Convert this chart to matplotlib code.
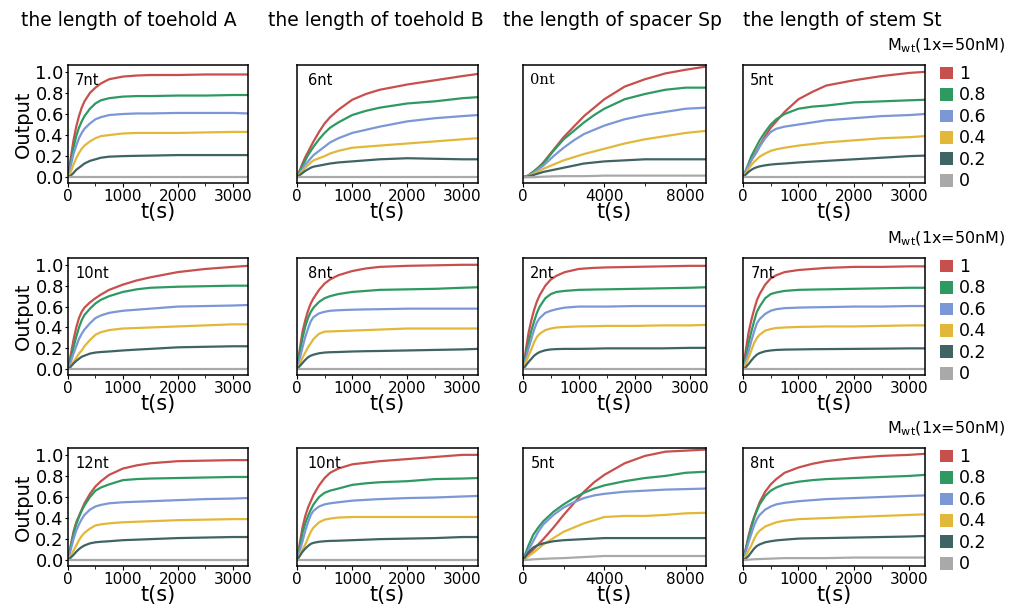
import matplotlib.pyplot as plt
from matplotlib.patches import Patch
from matplotlib.ticker import MultipleLocator

W, H = 1011, 614

T_SHORT = [0, 50, 100, 150, 200, 250, 300, 400, 500, 600, 750, 1000, 1250, 1500, 2000, 2500, 3000, 3280]
T_LONG = [0, 250, 500, 750, 1000, 1500, 2000, 2500, 3000, 3500, 4000, 5000, 6000, 7000, 8000, 9000]

LEVELS = ['1', '0.8', '0.6', '0.4', '0.2', '0']
COLORS = ['#c8504c', '#2e9a62', '#7b97d6', '#e2b83a', '#3e6463', '#a9a9a9']
COL_TITLES = ['the length of toehold A', 'the length of toehold B',
              'the length of spacer Sp', 'the length of stem St']

# Output for Mwt = 1, 0.8, 0.6, 0.4, 0.2, 0
toeholdA_7nt = [
    [0, 0.18, 0.35, 0.48, 0.58, 0.66, 0.72, 0.80, 0.85, 0.89, 0.93, 0.955, 0.965, 0.97, 0.97, 0.975, 0.975, 0.975],
    [0, 0.14, 0.28, 0.39, 0.47, 0.53, 0.58, 0.65, 0.70, 0.73, 0.75, 0.765, 0.77, 0.77, 0.775, 0.775, 0.78, 0.78],
    [0, 0.11, 0.22, 0.30, 0.37, 0.42, 0.46, 0.51, 0.55, 0.57, 0.59, 0.60, 0.605, 0.605, 0.61, 0.61, 0.61, 0.605],
    [0, 0.05, 0.12, 0.18, 0.23, 0.27, 0.30, 0.34, 0.37, 0.39, 0.40, 0.415, 0.42, 0.42, 0.42, 0.425, 0.43, 0.43],
    [0, 0.015, 0.04, 0.07, 0.09, 0.11, 0.13, 0.155, 0.17, 0.185, 0.195, 0.20, 0.203, 0.205, 0.21, 0.21, 0.21, 0.21],
    [0, 0, 0, 0, 0, 0, 0, 0, 0, 0, 0, 0, 0, 0, 0, 0, 0, 0],
]
toeholdB_6nt = [
    [0, 0.065, 0.13, 0.19, 0.24, 0.29, 0.34, 0.43, 0.51, 0.57, 0.64, 0.735, 0.79, 0.83, 0.88, 0.92, 0.96, 0.98],
    [0, 0.055, 0.11, 0.16, 0.21, 0.25, 0.29, 0.36, 0.42, 0.47, 0.52, 0.59, 0.63, 0.66, 0.70, 0.72, 0.75, 0.76],
    [0, 0.04, 0.08, 0.12, 0.15, 0.18, 0.21, 0.25, 0.29, 0.33, 0.37, 0.42, 0.45, 0.48, 0.53, 0.56, 0.58, 0.59],
    [0, 0.03, 0.06, 0.09, 0.115, 0.14, 0.16, 0.18, 0.20, 0.225, 0.25, 0.28, 0.29, 0.30, 0.32, 0.34, 0.36, 0.37],
    [0, 0.02, 0.04, 0.06, 0.075, 0.09, 0.10, 0.11, 0.12, 0.13, 0.14, 0.15, 0.16, 0.17, 0.18, 0.175, 0.17, 0.17],
    [0, 0, 0, 0, 0, 0, 0, 0, 0, 0, 0, 0, 0, 0, 0, 0, 0, 0],
]
spacer_0nt = [
    [0, 0.015, 0.05, 0.09, 0.14, 0.26, 0.38, 0.48, 0.58, 0.66, 0.74, 0.86, 0.93, 0.985, 1.02, 1.05],
    [0, 0.015, 0.05, 0.09, 0.13, 0.25, 0.36, 0.44, 0.52, 0.59, 0.65, 0.74, 0.79, 0.83, 0.85, 0.85],
    [0, 0.012, 0.04, 0.075, 0.11, 0.20, 0.28, 0.35, 0.41, 0.45, 0.49, 0.55, 0.59, 0.62, 0.65, 0.66],
    [0, 0.01, 0.03, 0.055, 0.08, 0.12, 0.16, 0.19, 0.22, 0.245, 0.27, 0.32, 0.36, 0.39, 0.42, 0.44],
    [0, 0.007, 0.02, 0.035, 0.05, 0.07, 0.09, 0.11, 0.13, 0.14, 0.15, 0.16, 0.17, 0.17, 0.17, 0.17],
    [0, 0, 0, 0.003, 0.005, 0.008, 0.01, 0.01, 0.01, 0.012, 0.015, 0.015, 0.015, 0.015, 0.015, 0.015],
]
stem_5nt = [
    [0, 0.055, 0.11, 0.16, 0.21, 0.25, 0.30, 0.39, 0.47, 0.53, 0.62, 0.74, 0.81, 0.87, 0.92, 0.96, 0.99, 1.0],
    [0, 0.065, 0.13, 0.20, 0.25, 0.30, 0.35, 0.43, 0.50, 0.55, 0.60, 0.65, 0.67, 0.68, 0.71, 0.72, 0.73, 0.735],
    [0, 0.055, 0.11, 0.16, 0.20, 0.24, 0.29, 0.37, 0.43, 0.46, 0.48, 0.50, 0.52, 0.54, 0.56, 0.58, 0.59, 0.60],
    [0, 0.04, 0.08, 0.115, 0.145, 0.17, 0.195, 0.225, 0.25, 0.265, 0.28, 0.30, 0.315, 0.33, 0.35, 0.37, 0.38, 0.39],
    [0, 0.025, 0.05, 0.07, 0.085, 0.095, 0.103, 0.113, 0.12, 0.125, 0.13, 0.14, 0.148, 0.155, 0.17, 0.185, 0.20, 0.205],
    [0, 0, 0, 0, 0, 0, 0, 0, 0, 0, 0, 0, 0, 0, 0, 0, 0, 0],
]
toeholdA_10nt = [
    [0, 0.14, 0.28, 0.40, 0.49, 0.55, 0.59, 0.64, 0.68, 0.715, 0.76, 0.81, 0.85, 0.88, 0.93, 0.96, 0.98, 0.99],
    [0, 0.10, 0.21, 0.31, 0.40, 0.47, 0.52, 0.58, 0.63, 0.665, 0.70, 0.74, 0.765, 0.78, 0.79, 0.795, 0.80, 0.80],
    [0, 0.07, 0.15, 0.22, 0.29, 0.34, 0.38, 0.44, 0.49, 0.515, 0.54, 0.56, 0.57, 0.58, 0.60, 0.605, 0.61, 0.615],
    [0, 0.03, 0.07, 0.11, 0.15, 0.18, 0.22, 0.28, 0.33, 0.355, 0.375, 0.39, 0.395, 0.40, 0.41, 0.42, 0.43, 0.43],
    [0, 0.025, 0.055, 0.08, 0.10, 0.12, 0.13, 0.15, 0.16, 0.165, 0.17, 0.18, 0.188, 0.195, 0.21, 0.215, 0.22, 0.22],
    [0, 0, 0, 0, 0, 0, 0, 0, 0, 0, 0, 0, 0, 0, 0, 0, 0, 0],
]
toeholdB_8nt = [
    [0, 0.19, 0.36, 0.47, 0.56, 0.63, 0.68, 0.76, 0.82, 0.86, 0.90, 0.94, 0.965, 0.98, 0.99, 0.995, 1.0, 1.0],
    [0, 0.16, 0.30, 0.41, 0.49, 0.55, 0.59, 0.645, 0.68, 0.70, 0.72, 0.74, 0.75, 0.76, 0.765, 0.77, 0.78, 0.785],
    [0, 0.10, 0.21, 0.31, 0.39, 0.46, 0.50, 0.535, 0.55, 0.56, 0.565, 0.57, 0.573, 0.575, 0.58, 0.58, 0.58, 0.58],
    [0, 0.05, 0.11, 0.16, 0.21, 0.25, 0.29, 0.34, 0.36, 0.362, 0.365, 0.37, 0.375, 0.38, 0.39, 0.39, 0.39, 0.39],
    [0, 0.03, 0.06, 0.09, 0.115, 0.13, 0.14, 0.153, 0.16, 0.163, 0.165, 0.17, 0.173, 0.175, 0.18, 0.185, 0.19, 0.195],
    [0, 0, 0, 0, 0, 0, 0, 0, 0, 0, 0, 0, 0, 0, 0, 0, 0, 0],
]
spacer_2nt = [
    [0, 0.18, 0.35, 0.47, 0.57, 0.65, 0.71, 0.80, 0.86, 0.895, 0.93, 0.96, 0.97, 0.975, 0.98, 0.985, 0.99, 0.99],
    [0, 0.13, 0.26, 0.37, 0.46, 0.54, 0.60, 0.68, 0.72, 0.74, 0.75, 0.76, 0.763, 0.765, 0.77, 0.775, 0.78, 0.785],
    [0, 0.10, 0.20, 0.29, 0.38, 0.45, 0.49, 0.54, 0.56, 0.575, 0.59, 0.60, 0.60, 0.60, 0.605, 0.605, 0.605, 0.605],
    [0, 0.065, 0.13, 0.19, 0.26, 0.31, 0.34, 0.375, 0.39, 0.40, 0.405, 0.41, 0.412, 0.415, 0.415, 0.42, 0.42, 0.425],
    [0, 0.035, 0.07, 0.10, 0.13, 0.15, 0.165, 0.182, 0.19, 0.193, 0.195, 0.195, 0.197, 0.20, 0.20, 0.20, 0.205, 0.205],
    [0, 0, 0, 0, 0, 0, 0, 0, 0, 0, 0, 0, 0, 0, 0, 0, 0, 0],
]
stem_7nt = [
    [0, 0.18, 0.35, 0.47, 0.57, 0.66, 0.72, 0.81, 0.87, 0.90, 0.93, 0.95, 0.96, 0.97, 0.98, 0.98, 0.985, 0.985],
    [0, 0.12, 0.25, 0.36, 0.46, 0.55, 0.60, 0.68, 0.72, 0.735, 0.75, 0.76, 0.763, 0.765, 0.77, 0.775, 0.78, 0.78],
    [0, 0.08, 0.17, 0.27, 0.36, 0.44, 0.48, 0.53, 0.56, 0.575, 0.585, 0.59, 0.593, 0.595, 0.60, 0.60, 0.605, 0.605],
    [0, 0.05, 0.11, 0.18, 0.25, 0.30, 0.33, 0.37, 0.385, 0.395, 0.40, 0.405, 0.407, 0.41, 0.41, 0.415, 0.42, 0.42],
    [0, 0.02, 0.05, 0.085, 0.115, 0.14, 0.155, 0.172, 0.18, 0.185, 0.188, 0.19, 0.192, 0.193, 0.195, 0.197, 0.20, 0.20],
    [0, 0, 0, 0, 0, 0, 0, 0, 0, 0, 0, 0, 0, 0, 0, 0, 0, 0],
]
toeholdA_12nt = [
    [0, 0.14, 0.27, 0.36, 0.42, 0.48, 0.54, 0.63, 0.70, 0.75, 0.81, 0.87, 0.90, 0.92, 0.94, 0.945, 0.95, 0.95],
    [0, 0.13, 0.25, 0.34, 0.41, 0.47, 0.52, 0.60, 0.66, 0.69, 0.72, 0.76, 0.77, 0.775, 0.78, 0.785, 0.79, 0.79],
    [0, 0.10, 0.20, 0.28, 0.34, 0.39, 0.43, 0.48, 0.51, 0.525, 0.54, 0.55, 0.555, 0.56, 0.57, 0.58, 0.585, 0.59],
    [0, 0.045, 0.09, 0.14, 0.19, 0.23, 0.26, 0.30, 0.33, 0.34, 0.35, 0.36, 0.365, 0.37, 0.38, 0.385, 0.39, 0.39],
    [0, 0.025, 0.05, 0.08, 0.105, 0.125, 0.14, 0.16, 0.17, 0.175, 0.18, 0.19, 0.195, 0.20, 0.21, 0.215, 0.22, 0.22],
    [0, 0, 0, 0, 0, 0, 0, 0, 0, 0, 0, 0, 0, 0, 0, 0, 0, 0],
]
toeholdB_10nt = [
    [0, 0.16, 0.31, 0.42, 0.50, 0.56, 0.62, 0.71, 0.78, 0.83, 0.87, 0.91, 0.925, 0.94, 0.96, 0.98, 1.0, 1.0],
    [0, 0.13, 0.26, 0.35, 0.42, 0.48, 0.53, 0.60, 0.64, 0.66, 0.68, 0.715, 0.73, 0.74, 0.75, 0.77, 0.775, 0.78],
    [0, 0.09, 0.18, 0.28, 0.36, 0.43, 0.47, 0.51, 0.53, 0.54, 0.55, 0.565, 0.573, 0.58, 0.59, 0.595, 0.605, 0.61],
    [0, 0.05, 0.10, 0.15, 0.21, 0.27, 0.31, 0.36, 0.385, 0.395, 0.405, 0.41, 0.41, 0.41, 0.41, 0.41, 0.41, 0.41],
    [0, 0.04, 0.08, 0.11, 0.135, 0.155, 0.165, 0.175, 0.18, 0.183, 0.185, 0.19, 0.195, 0.20, 0.205, 0.21, 0.22, 0.22],
    [0, 0, 0, 0, 0, 0, 0, 0, 0, 0, 0, 0, 0, 0, 0, 0, 0, 0],
]
spacer_5nt = [
    [0, 0.05, 0.10, 0.15, 0.20, 0.31, 0.43, 0.54, 0.65, 0.74, 0.81, 0.92, 0.99, 1.03, 1.04, 1.05],
    [0, 0.13, 0.24, 0.31, 0.37, 0.46, 0.53, 0.59, 0.64, 0.68, 0.71, 0.75, 0.78, 0.80, 0.83, 0.84],
    [0, 0.09, 0.18, 0.27, 0.34, 0.43, 0.50, 0.55, 0.59, 0.615, 0.63, 0.65, 0.66, 0.67, 0.675, 0.68],
    [0, 0.035, 0.07, 0.11, 0.15, 0.21, 0.27, 0.31, 0.35, 0.38, 0.41, 0.42, 0.42, 0.43, 0.445, 0.45],
    [0, 0.07, 0.12, 0.145, 0.16, 0.18, 0.19, 0.195, 0.20, 0.205, 0.21, 0.21, 0.21, 0.21, 0.21, 0.21],
    [0, 0.004, 0.008, 0.011, 0.013, 0.017, 0.02, 0.025, 0.03, 0.035, 0.04, 0.04, 0.04, 0.04, 0.04, 0.04],
]
stem_8nt = [
    [0, 0.11, 0.23, 0.33, 0.41, 0.48, 0.55, 0.65, 0.72, 0.77, 0.83, 0.88, 0.915, 0.94, 0.97, 0.99, 1.0, 1.01],
    [0, 0.10, 0.21, 0.31, 0.40, 0.47, 0.53, 0.61, 0.66, 0.69, 0.72, 0.745, 0.76, 0.77, 0.78, 0.79, 0.80, 0.81],
    [0, 0.08, 0.17, 0.25, 0.33, 0.39, 0.43, 0.48, 0.51, 0.53, 0.545, 0.56, 0.57, 0.58, 0.59, 0.60, 0.61, 0.615],
    [0, 0.04, 0.09, 0.14, 0.20, 0.25, 0.28, 0.32, 0.34, 0.36, 0.375, 0.39, 0.395, 0.40, 0.41, 0.42, 0.43, 0.435],
    [0, 0.015, 0.04, 0.075, 0.11, 0.135, 0.15, 0.17, 0.18, 0.188, 0.195, 0.205, 0.208, 0.21, 0.215, 0.22, 0.225, 0.23],
    [0, 0.002, 0.005, 0.007, 0.009, 0.01, 0.011, 0.013, 0.015, 0.017, 0.02, 0.02, 0.02, 0.02, 0.025, 0.025, 0.025, 0.025],
]

panels = [
    [('7nt', T_SHORT, toeholdA_7nt), ('6nt', T_SHORT, toeholdB_6nt),
     ('0nt', T_LONG, spacer_0nt), ('5nt', T_SHORT, stem_5nt)],
    [('10nt', T_SHORT, toeholdA_10nt), ('8nt', T_SHORT, toeholdB_8nt),
     ('2nt', T_SHORT, spacer_2nt), ('7nt', T_SHORT, stem_7nt)],
    [('12nt', T_SHORT, toeholdA_12nt), ('10nt', T_SHORT, toeholdB_10nt),
     ('5nt', T_LONG, spacer_5nt), ('8nt', T_SHORT, stem_8nt)],
]

# axes boxes in pixels
col_left = [68, 297, 523, 743]
col_right = [248, 478, 706, 925]
row_top = [65, 258, 448]
row_bottom = [183, 375, 566]
title_x = [129, 376, 612, 842]

plt.rcParams['font.family'] = 'DejaVu Sans'
fig = plt.figure(figsize=(W / 100, H / 100), dpi=100)

for c, title in enumerate(COL_TITLES):
    fig.text(title_x[c] / W, 1 - 20 / H, title, ha='center', va='center', fontsize=13.5)

for r in range(3):
    for c in range(4):
        label, t, data = panels[r][c]
        l, rt = col_left[c], col_right[c]
        tp, bt = row_top[r], row_bottom[r]
        ax = fig.add_axes([l / W, 1 - bt / H, (rt - l) / W, (bt - tp) / H])
        for y, col in zip(data, COLORS):
            ax.plot(t, y, color=col, lw=1.6, solid_capstyle='butt')
        ax.set_ylim(-0.055, 1.065)
        if t is T_LONG:
            ax.set_xlim(0, 9000)
            ax.set_xticks([0, 4000, 8000])
            ax.xaxis.set_minor_locator(MultipleLocator(2000))
        else:
            ax.set_xlim(0, 3280)
            ax.set_xticks([0, 1000, 2000, 3000])
            ax.xaxis.set_minor_locator(MultipleLocator(500))
        ax.tick_params(axis='x', which='major', length=3, width=0.8, labelsize=11, pad=1)
        ax.tick_params(axis='x', which='minor', length=2, width=0.6)
        for s in ax.spines.values():
            s.set_linewidth(1.1)
        if c == 0:
            ax.set_yticks([0, 0.2, 0.4, 0.6, 0.8, 1.0])
            ax.set_yticklabels(['0.0', '0.2', '0.4', '0.6', '0.8', '1.0'])
            ax.tick_params(axis='y', length=2, width=0.8, labelsize=13, pad=1)
            ax.set_ylabel('Output', fontsize=14, labelpad=2)
        else:
            ax.set_yticks([])
        ax.set_xlabel('t(s)', fontsize=15, labelpad=-1)
        fam = 'DejaVu Serif' if label == '0nt' and r == 0 else 'DejaVu Sans'
        ax.text(0.04 if c != 1 else 0.06, 0.93, label, transform=ax.transAxes,
                ha='left', va='top', fontsize=10.5, family=fam)
        if c == 3:
            handles = [Patch(facecolor=col, edgecolor='none') for col in COLORS]
            ax.legend(handles, LEVELS, loc='upper left', bbox_to_anchor=(1.08, 1.0),
                      frameon=False, fontsize=12.5, handlelength=0.75, handleheight=0.75,
                      handletextpad=0.35, labelspacing=0.2, borderpad=0, borderaxespad=0)
            ax.text(1.44, 1.16, 'M$_{\\mathregular{wt}}$(1x=50nM)', transform=ax.transAxes,
                    ha='right', va='center', fontsize=11.5)

fig.savefig('out.png', dpi=100)
